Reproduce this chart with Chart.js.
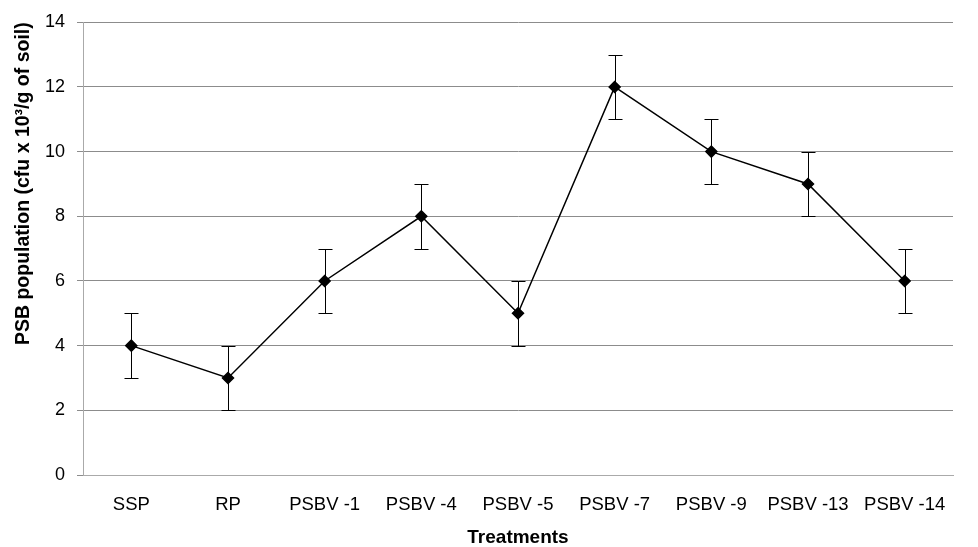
<!DOCTYPE html>
<html>
<head>
<meta charset="utf-8">
<script src="https://cdn.jsdelivr.net/npm/chart.js@4"></script>
<style>
  html, body { margin: 0; padding: 0; background: #fff; }
  #wrap { width: 978px; height: 547px; }
</style>
</head>
<body>
<div id="wrap"><canvas id="one"></canvas></div>
<script>
// data
const treatments = ['SSP', 'RP', 'PSBV -1', 'PSBV -4', 'PSBV -5', 'PSBV -7', 'PSBV -9', 'PSBV -13', 'PSBV -14'];
const population = [4, 3, 6, 8, 5, 12, 10, 9, 6];
const errors = [1, 1, 1, 1, 1, 1, 1, 1, 1];
const yTicks = [0, 2, 4, 6, 8, 10, 12, 14];

// error bars, drawn under the line and markers
const errorBars = {
  id: 'errorBars',
  beforeDatasetsDraw(chart) {
    const ctx = chart.ctx;
    const meta = chart.getDatasetMeta(0);
    const y = chart.scales.y;
    ctx.save();
    ctx.strokeStyle = '#000';
    ctx.lineWidth = 1;
    meta.data.forEach(function(pt, i) {
      const top = Math.round(y.getPixelForValue(population[i] + errors[i])) + 0.5;
      const bot = Math.round(y.getPixelForValue(population[i] - errors[i])) + 0.5;
      const x = Math.round(pt.x) + 0.5;
      ctx.beginPath();
      ctx.moveTo(x, top); ctx.lineTo(x, bot);
      ctx.moveTo(x - 7, top); ctx.lineTo(x + 7, top);
      ctx.moveTo(x - 7, bot); ctx.lineTo(x + 7, bot);
      ctx.stroke();
    });
    ctx.restore();
  }
};

const one = document.getElementById('one');
new Chart(one, {
  type: 'line',
  data: {
    labels: treatments,
    datasets: [{
      data: population,
      borderColor: '#000',
      backgroundColor: '#000',
      borderWidth: 1.5,
      pointStyle: 'rectRot',
      pointRadius: 5.5,
      pointHoverRadius: 5.5,
      tension: 0
    }]
  },
  options: {
    responsive: true,
    maintainAspectRatio: false,
    animation: false,
    layout: { padding: { top: 0, right: 25, bottom: 0, left: 0 } },
    plugins: { legend: { display: false }, tooltip: { enabled: false } },
    scales: {
      x: {
        offset: true,
        grid: { display: false, drawTicks: false },
        border: { color: '#aaa', width: 1 },
        ticks: { color: '#000', padding: 19, font: { family: 'Liberation Sans', size: 18.5 } },
        title: { display: true, text: 'Treatments', color: '#000', padding: { top: 0, bottom: -2 },
                 font: { family: 'Liberation Sans', size: 19, weight: 'bold' } },
        afterFit: function(scale) { scale.height = 72; }
      },
      y: {
        min: 0, max: 14,
        afterBuildTicks: function(scale) { scale.ticks = yTicks.map(function(v) { return { value: v }; }); },
        grid: { color: '#8c8c8c', tickLength: 6, tickColor: '#8c8c8c' },
        border: { color: '#aaa', width: 1 },
        ticks: { color: '#000', padding: 12, font: { family: 'Liberation Sans', size: 18, lineHeight: 1.14 } },
        title: { display: true, text: 'PSB population (cfu x 10³/g of soil)', color: '#000', align: 'end',
                 padding: { top: 12, bottom: 0 },
                 font: { family: 'Liberation Sans', size: 19.5, weight: 'bold' } },
        afterFit: function(scale) { scale.width = 83; }
      }
    }
  },
  plugins: [errorBars]
});
</script>
</body>
</html>
